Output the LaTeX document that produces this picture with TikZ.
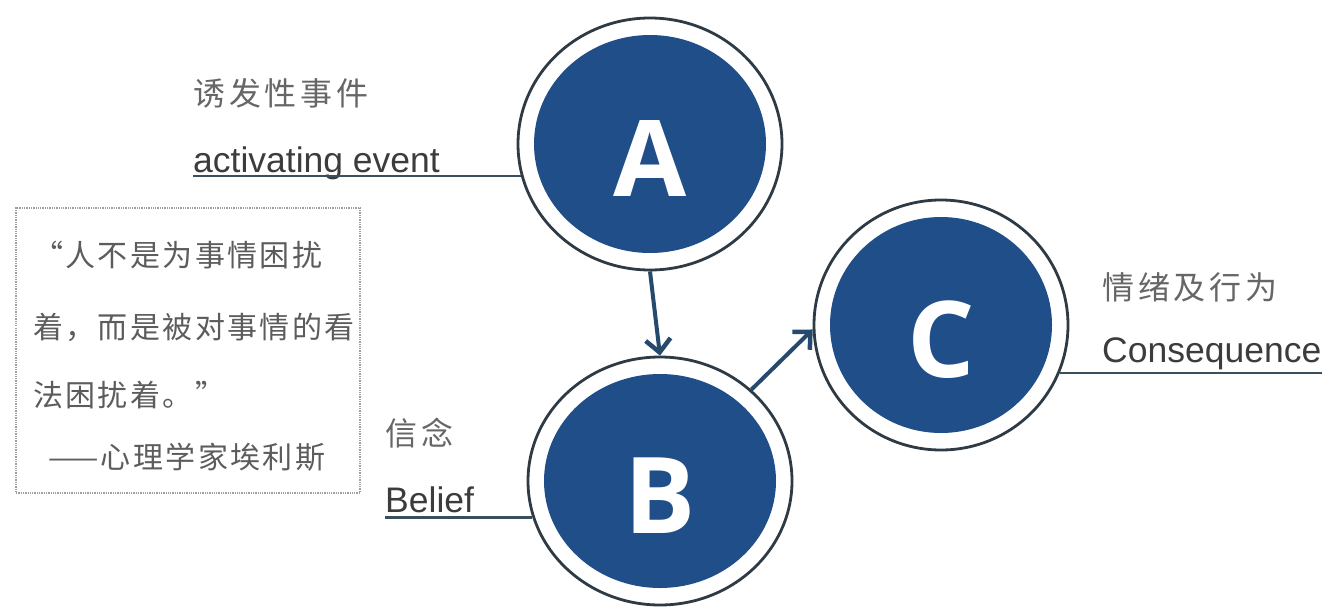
\documentclass[tikz,border=0pt]{standalone}
\usepackage{fontspec}
\setmainfont{Liberation Sans}
\newfontfamily\cjklabel{Noto Sans CJK SC}[LetterSpace=12]
\newfontfamily\cjkquote{Noto Sans CJK SC}[LetterSpace=8]
\newfontfamily\letterfont{Open Sans}
\usetikzlibrary{shapes.geometric,arrows.meta}
\definecolor{abcblue}{HTML}{1F4E89}
\definecolor{ringline}{HTML}{2E3A44}
\definecolor{arrowblue}{HTML}{264A6E}
\definecolor{labelgray}{HTML}{666666}
\definecolor{engtext}{HTML}{3C3C3C}
\definecolor{ulinecol}{HTML}{3A4F5E}
\begin{document}
\begin{tikzpicture}[x=1pt,y=-1pt,
	ring/.style 2 args={ellipse,draw=ringline,line width=2.8pt,fill=white,
		minimum width=#1,minimum height=#2,inner sep=0pt,
		text=white,font=\letterfont\bfseries\fontsize{106}{106}\selectfont,
		text height=104pt,text depth=0pt,
		path picture={\fill[abcblue] (path picture bounding box.center)
			ellipse [x radius=#1/2-16pt,y radius=#2/2-17pt];}},
	flow/.style={draw=arrowblue,line width=4pt,
		-{Straight Barb[length=13pt,width=25pt,line width=4.5pt]}},
	cnlabel/.style={anchor=west,inner sep=0pt,text=labelgray,
		font=\cjklabel\fontsize{32}{32}\selectfont},
	enlabel/.style={anchor=base west,inner sep=0pt,text=engtext,
		font=\fontsize{35.5}{36}\selectfont},
	uline/.style={draw=ulinecol,line width=2.4pt},
	quotebox/.style={draw=gray!75,densely dotted,line width=1.3pt},
	qtext/.style={anchor=west,inner sep=0pt,text=labelgray!90!black,
		font=\cjkquote\fontsize{30}{30}\selectfont}]
	\useasboundingbox (0,0) rectangle (1341,610);
	\node [ring={264pt}{252pt}] (A) at (650,144) {A};
	\node [ring={264pt}{248pt}] (B) at (660,481) {B};
	\node [ring={254pt}{250pt}] (C) at (941,325) {C};
	\draw [flow] (A.south) -- (B.north);
	\draw [flow] (B.45) -- (C.182);
	\node [cnlabel] (evcn) at (193,93) {诱发性事件};
	\node [enlabel] (ev) at (193,172) {activating event};
	\draw [uline] (A.194) -- (A.194 -| ev.west);
	\node [cnlabel] (blcn) at (385,433) {信念};
	\node [enlabel] (bl) at (385,512) {Belief};
	\draw [uline] (B.196) -- (B.196 -| bl.west);
	\node [cnlabel] (cscn) at (1102,287) {情绪及行为};
	\node [enlabel] (cs) at (1102,362) {Consequence};
	\draw [uline] (C.338) -- (C.338 -| cs.east);
	\node [quotebox,minimum width=344pt,minimum height=285pt] (quote) at (188,350.5) {};
	\node [qtext] (q1) at (33,255) {“人不是为事情困扰};
	\node [qtext] (q2) at (33,327) {着，而是被对事情的看};
	\node [qtext] (q3) at (33,395) {法困扰着。”};
	\node [qtext] (q4) at (48,457) {——心理学家埃利斯};
\end{tikzpicture}
\end{document}
